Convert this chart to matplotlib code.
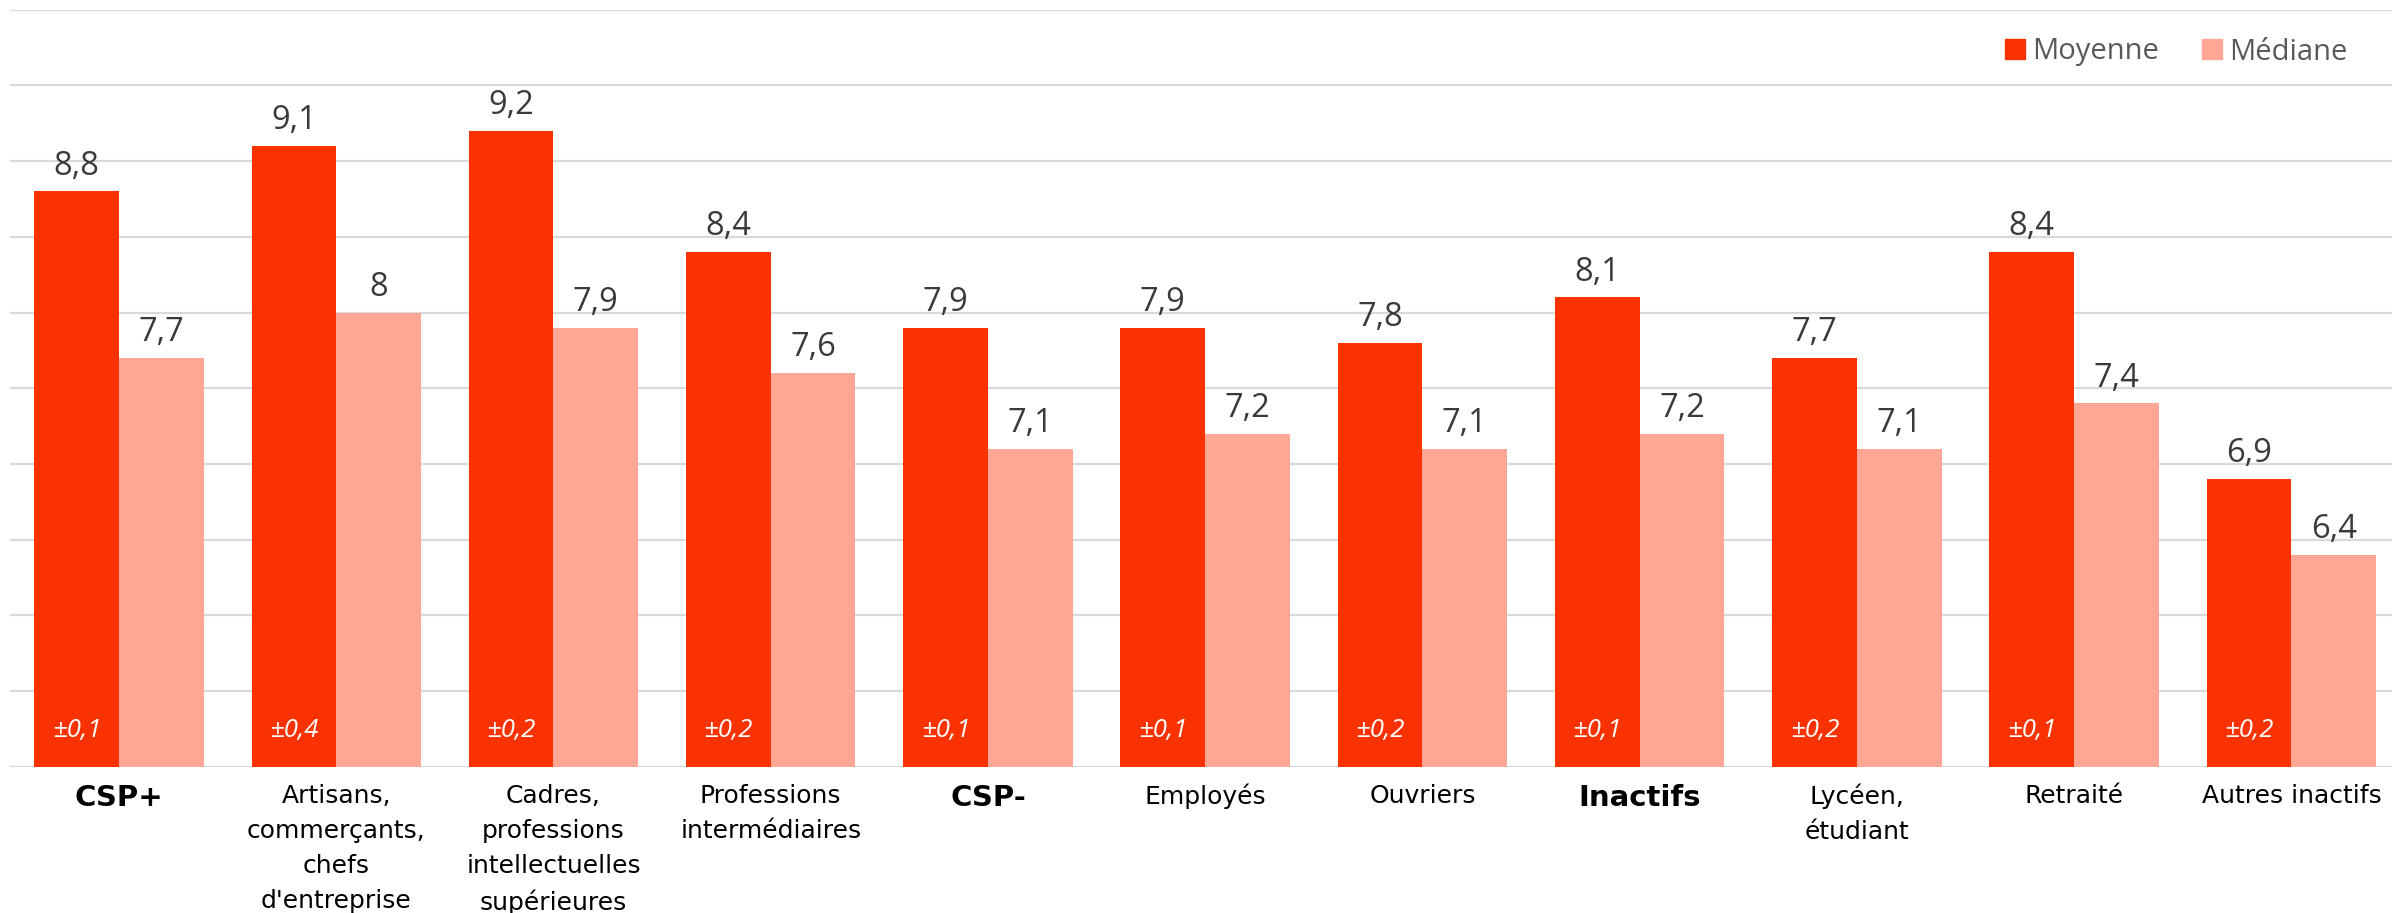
import numpy as np
import matplotlib
matplotlib.use('Agg')
import matplotlib.pyplot as plt
from matplotlib.patches import Patch

# données
categories = ["CSP+", "Artisans,\ncommerçants,\nchefs\nd'entreprise",
              "Cadres,\nprofessions\nintellectuelles\nsupérieures",
              "Professions\nintermédiaires", "CSP-", "Employés", "Ouvriers",
              "Inactifs", "Lycéen,\nétudiant", "Retraité", "Autres inactifs"]
groupes = ["CSP+", "CSP-", "Inactifs"]
moyenne = [8.8, 9.1, 9.2, 8.4, 7.9, 7.9, 7.8, 8.1, 7.7, 8.4, 6.9]
mediane = [7.7, 8.0, 7.9, 7.6, 7.1, 7.2, 7.1, 7.2, 7.1, 7.4, 6.4]
marges = ["±0,1", "±0,4", "±0,2", "±0,2", "±0,1", "±0,1",
          "±0,2", "±0,1", "±0,2", "±0,1", "±0,2"]

rouge = '#F93200'
rose = '#FFA794'
police = ['Open Sans', 'DejaVu Sans']

plt.rcParams['font.family'] = ['DejaVu Sans']

fig = plt.figure(figsize=(23.92, 9.13), dpi=100)
ax = fig.add_axes([10.4/2392, 0.16, 2389.6/2392, 0.8295])

x = np.arange(len(categories))
w = 0.39
ax.bar(x - w/2, moyenne, w, color=rouge, zorder=3)
ax.bar(x + w/2, mediane, w, color=rose, zorder=3)

ax.set_ylim(5, 10)
ax.set_xlim(-0.5, 10.5)
ax.set_yticks(np.arange(5, 10.01, 0.5))
ax.yaxis.grid(True, color='#d9d9d9', linewidth=1.6, zorder=0)
ax.tick_params(axis='y', left=False, labelleft=False)
for s in ax.spines.values():
    s.set_visible(False)

# étiquettes des valeurs
for xs, vals in [(x - w/2, moyenne), (x + w/2, mediane)]:
    for xi, v in zip(xs, vals):
        ax.annotate(f"{v:g}".replace('.', ','), (xi, v), xytext=(0, 12),
                    textcoords='offset points', ha='center', va='baseline',
                    fontsize=23.5, color='#3a3a3a', family=police)
# marges d'erreur
for xi, m in zip(x - w/2, marges):
    ax.annotate(m, (xi, 5), xytext=(0, 21.5), textcoords='offset points',
                ha='center', va='baseline', fontsize=18.5, style='italic',
                color='white', zorder=4, family=police)

ax.set_xticks(x)
ax.set_xticklabels(categories, linespacing=1.58)
ax.tick_params(axis='x', length=0, pad=12, labelsize=18, labelcolor='black')
for lab in ax.get_xticklabels():
    if lab.get_text() in groupes:
        lab.set_fontweight('bold')
        lab.set_fontsize(21)

handles = [Patch(color=rouge, label='Moyenne'), Patch(color=rose, label='Médiane')]
leg = fig.legend(handles=handles, loc='center right',
                 bbox_to_anchor=(2362/2392, 1 - 52/913), ncol=2, frameon=False,
                 prop={'family': police, 'size': 21}, borderpad=0,
                 handlelength=0.66, handleheight=0.66,
                 handletextpad=0.25, columnspacing=1.5)
for t in leg.get_texts():
    t.set_color('#595959')

fig.savefig('out.png', dpi=100)
